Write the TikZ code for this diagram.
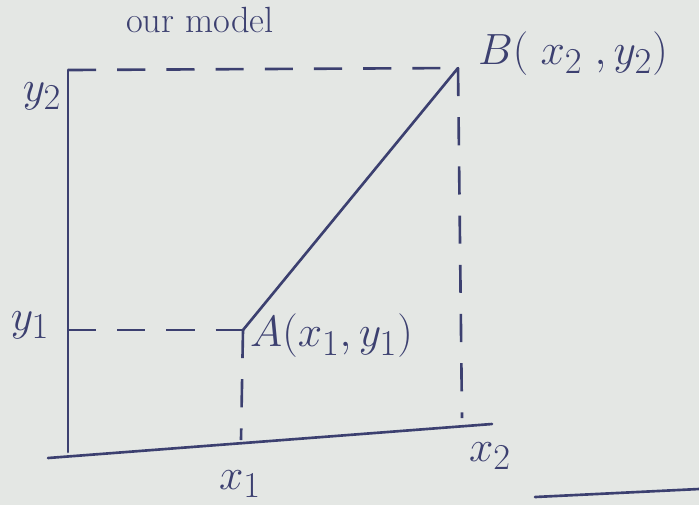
\documentclass[tikz,border=0pt]{standalone}
\usetikzlibrary{positioning}

\definecolor{ink}{RGB}{60,64,112}
\definecolor{paper}{RGB}{228,231,228}

\begin{document}
\begin{tikzpicture}[
  x=0.02cm, y=-0.02cm,
  lbl/.style={font=\Huge, text=ink},
  axis/.style={draw=ink, line width=1.5pt, line cap=round},
  guide/.style={draw=ink, line width=1.5pt, dash pattern=on 16pt off 12pt}
]

  % Paper and frame
  \fill[paper] (0,0) rectangle (699,505);
  \useasboundingbox (0,0) rectangle (699,505);

  % Heading at the top
  \node[lbl, font=\huge, inner sep=1pt, anchor=base west] (head) at (124,32) {our model};

  % Axes
  \coordinate (O)    at (68,452);
  \coordinate (Ytop) at (68,70);
  \coordinate (Xl)   at (48,458);
  \coordinate (Xr)   at (492,424);
  \draw[axis] (O) -- (Ytop);
  \draw[axis] (Xl) -- (Xr);

  % The two points and their feet on the axes
  \coordinate (A)  at (243,330);
  \coordinate (B)  at (458,68);
  \coordinate (Ay) at (68,330);
  \coordinate (By) at (68,70);
  \coordinate (Ax) at (241,440);
  \coordinate (Bx) at (462,418);

  % Segment AB
  \draw[axis] (A) -- (B);

  % Guides to the axes
  \draw[guide] (By) -- (B);
  \draw[guide] (B) -- (Bx);
  \draw[guide] (Ay) -- (A);
  \draw[guide] (A) -- (Ax);

  % Labels
  \node[lbl] (ly2) at (42,96)  {$y_2$};
  \node[lbl] (ly1) at (30,325) {$y_1$};
  \node[lbl] (lx1) at (240,484) {$x_1$};
  \node[lbl] (lx2) at (490,456) {$x_2$};
  \node[lbl, anchor=west] (lA) at (244,336) {$A(x_1,y_1)$};
  \node[lbl, anchor=west] (lB) at (472,54)  {$B(\;x_2\;,y_2)$};

  % Stray stroke at the bottom
  \coordinate (s1) at (535,497);
  \coordinate (s2) at (699,489);
  \draw[axis] (s1) -- (s2);

\end{tikzpicture}
\end{document}
